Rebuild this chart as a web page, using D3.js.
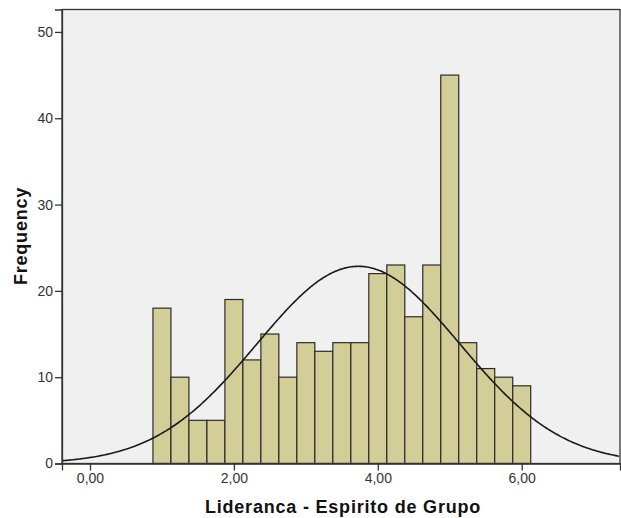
<!DOCTYPE html>
<html>
<head>
<meta charset="utf-8">
<script src="https://cdn.jsdelivr.net/npm/d3@7"></script>
<style>
  html, body { margin: 0; padding: 0; background: #fff; }
  svg { display: block; }
  text { font-family: "Liberation Sans", Arial, sans-serif; }
</style>
</head>
<body>
<svg id="chart" width="621" height="518"></svg>
<script>
// Histogram bins (lower edges) and frequencies
const binStart = [0.875, 1.125, 1.375, 1.625, 1.875, 2.125, 2.375, 2.625, 2.875, 3.125, 3.375,
                  3.625, 3.875, 4.125, 4.375, 4.625, 4.875, 5.125, 5.375, 5.625, 5.875];
const binWidth = 0.25;
const counts = [18, 10, 5, 5, 19, 12, 15, 10, 14, 13, 14, 14, 22, 23, 17, 23, 45, 14, 11, 10, 9];

// Normal curve parameters
const mean = 3.73;
const stdDev = 1.41;
const N = 323;

const xTicks = [0, 2, 4, 6];
const yTicks = [0, 10, 20, 30, 40, 50];

const xTitle = "Lideranca - Espirito de Grupo";
const yTitle = "Frequency";

const svg = d3.select("#chart");
const plotL = 62, plotR = 620, plotT = 9.5, plotB = 463.5;

const x = d3.scaleLinear().domain([-0.389, 7.366]).range([plotL, plotR]);
const y = d3.scaleLinear().domain([0, 52.6]).range([plotB, plotT]);

// Plot background
svg.append("rect")
  .attr("x", plotL).attr("y", plotT)
  .attr("width", plotR - plotL).attr("height", plotB - plotT)
  .attr("fill", "#f0f0f0");

// Bars
svg.append("g").selectAll("rect")
  .data(counts)
  .join("rect")
  .attr("x", (d, i) => x(binStart[i]))
  .attr("y", d => y(d))
  .attr("width", (d, i) => x(binStart[i] + binWidth) - x(binStart[i]))
  .attr("height", d => y(0) - y(d))
  .attr("fill", "#d3ce97")
  .attr("stroke", "#2b2b2b")
  .attr("stroke-width", 1.2);

// Normal density curve scaled to counts
const xs = d3.range(-0.389, 7.37, 0.02);
const pdf = v => N * binWidth / (stdDev * Math.sqrt(2 * Math.PI)) *
  Math.exp(-0.5 * Math.pow((v - mean) / stdDev, 2));
svg.append("path")
  .datum(xs)
  .attr("d", d3.line().x(v => x(v)).y(v => y(pdf(v))).curve(d3.curveBasis))
  .attr("fill", "none")
  .attr("stroke", "#1a1a1a")
  .attr("stroke-width", 1.6);

// Plot frame
svg.append("rect")
  .attr("x", plotL).attr("y", plotT)
  .attr("width", plotR - plotL).attr("height", plotB - plotT)
  .attr("fill", "none")
  .attr("stroke", "#333")
  .attr("stroke-width", 1.3);

// Axes
const xAxis = svg.append("g")
  .attr("transform", `translate(0,${plotB})`)
  .call(d3.axisBottom(x).tickValues(xTicks)
    .tickFormat(d => d3.format(".2f")(d).replace(".", ","))
    .tickSize(7).tickPadding(3));
const yAxis = svg.append("g")
  .attr("transform", `translate(${plotL},0)`)
  .call(d3.axisLeft(y).tickValues(yTicks).tickSize(7).tickPadding(2));

[xAxis, yAxis].forEach(g => {
  g.select(".domain").attr("stroke", "#333").attr("stroke-width", 1.3);
  g.selectAll(".tick line").attr("stroke", "#333").attr("stroke-width", 1.3);
  g.selectAll(".tick text").attr("fill", "#333").attr("font-size", 14)
    .attr("font-family", "'Liberation Sans', Arial, sans-serif");
});

// Axis titles
svg.append("text")
  .attr("x", 343).attr("y", 513)
  .attr("text-anchor", "middle")
  .attr("font-size", 18).attr("font-weight", "bold").attr("fill", "#111")
  .attr("letter-spacing", 0.8)
  .text(xTitle);

svg.append("text")
  .attr("transform", "translate(27,236) rotate(-90)")
  .attr("text-anchor", "middle")
  .attr("font-size", 18).attr("font-weight", "bold").attr("fill", "#111")
  .attr("letter-spacing", 0.8)
  .text(yTitle);
</script>
</body>
</html>
